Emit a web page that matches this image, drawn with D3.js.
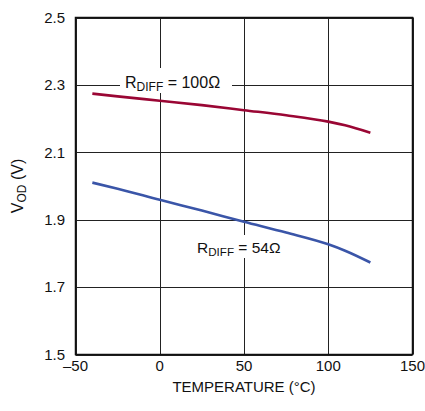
<!DOCTYPE html>
<html>
<head>
<meta charset="utf-8">
<script src="https://cdn.jsdelivr.net/npm/d3@7"></script>
<style>
html,body{margin:0;padding:0;background:#fff;}
svg{display:block;}
text{font-family:"Liberation Sans",Arial,Helvetica,sans-serif;fill:#111;}
</style>
</head>
<body>
<svg id="chart" width="425" height="411"></svg>
<script>
// Data
const temps100 = [-40, -25, 0, 25, 50, 75, 100, 110, 125];
const vod100   = [2.274, 2.266, 2.253, 2.240, 2.225, 2.210, 2.191, 2.180, 2.158];
const temps54  = [-40, -25, 0, 25, 50, 75, 100, 110, 125];
const vod54    = [2.010, 1.992, 1.959, 1.927, 1.894, 1.862, 1.827, 1.808, 1.773];
const xTicks = [-50, 0, 50, 100, 150];
const xTickLabels = ["\u201350", "0", "50", "100", "150"];
const yTicks = [1.5, 1.7, 1.9, 2.1, 2.3, 2.5];
const yTickLabels = ["1.5", "1.7", "1.9", "2.1", "2.3", "2.5"];

const svg = d3.select("#chart");
const m = {left: 75.5, right: 412.5, top: 17.5, bottom: 354.5};
const x = d3.scaleLinear().domain([-50, 150]).range([m.left, m.right]);
const y = d3.scaleLinear().domain([1.5, 2.5]).range([m.bottom, m.top]);

// grid
const g = svg.append("g");
g.selectAll("line.v").data(xTicks).join("line")
  .attr("x1", d => Math.round(x(d)) + 0.5).attr("x2", d => Math.round(x(d)) + 0.5)
  .attr("y1", m.top).attr("y2", m.bottom)
  .attr("stroke", "#222").attr("stroke-width", 1);
g.selectAll("line.h").data(yTicks).join("line")
  .attr("y1", d => Math.round(y(d)) + 0.5).attr("y2", d => Math.round(y(d)) + 0.5)
  .attr("x1", m.left).attr("x2", m.right)
  .attr("stroke", "#222").attr("stroke-width", 1);

// label backgrounds
svg.append("rect").attr("x", 120).attr("y", 68).attr("width", 112).attr("height", 25).attr("fill", "#fff");
svg.append("rect").attr("x", 192).attr("y", 235).attr("width", 98).attr("height", 23).attr("fill", "#fff");

// frame
svg.append("rect").attr("x", m.left).attr("y", m.top)
  .attr("width", m.right - m.left).attr("height", m.bottom - m.top)
  .attr("fill", "none").attr("stroke", "#111").attr("stroke-width", 1.5);

// lines
const line = d3.line().x(d => x(d[0])).y(d => y(d[1])).curve(d3.curveMonotoneX);
svg.append("path").datum(temps100.map((t, i) => [t, vod100[i]]))
  .attr("d", line).attr("fill", "none").attr("stroke", "#9a0634").attr("stroke-width", 2.6);
svg.append("path").datum(temps54.map((t, i) => [t, vod54[i]]))
  .attr("d", line).attr("fill", "none").attr("stroke", "#3a55a8").attr("stroke-width", 2.6);

// series labels
function rlabel(px, py, val, fs) {
  const t = svg.append("text").attr("x", px).attr("y", py).attr("font-size", fs);
  t.append("tspan").text("R");
  t.append("tspan").attr("font-size", fs * 0.75).attr("dy", 3).text("DIFF");
  t.append("tspan").attr("dy", -3).text(" = " + val);
}
rlabel(125, 88, "100\u03A9", 16);
rlabel(197, 253, "54\u03A9", 15.5);

// tick labels
svg.selectAll("text.xt").data(xTicks).join("text")
  .attr("x", d => x(d)).attr("y", 371).attr("text-anchor", "middle")
  .attr("font-size", 15).text((d, i) => xTickLabels[i]);
svg.selectAll("text.yt").data(yTicks).join("text")
  .attr("x", 65).attr("y", d => y(d) + 5.3).attr("text-anchor", "end")
  .attr("font-size", 15).text((d, i) => yTickLabels[i]);

// axis titles
svg.append("text").attr("x", 244).attr("y", 392).attr("text-anchor", "middle")
  .attr("font-size", 15).text("TEMPERATURE (\u00B0C)");
const yl = svg.append("text").attr("transform", "translate(23,186) rotate(-90)")
  .attr("text-anchor", "middle").attr("font-size", 16);
yl.append("tspan").text("V");
yl.append("tspan").attr("font-size", 12).attr("dy", 3).text("OD");
yl.append("tspan").attr("dy", -3).text(" (V)");
</script>
</body>
</html>
